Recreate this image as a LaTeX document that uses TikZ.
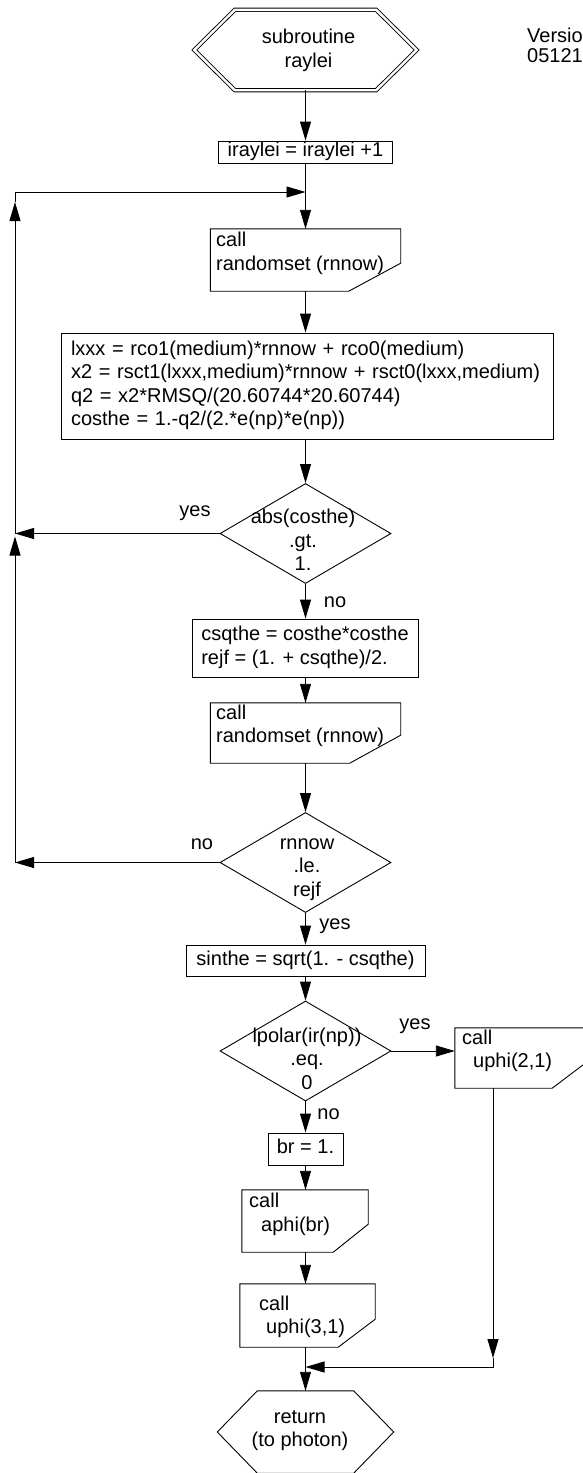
\documentclass[tikz,border=0pt]{standalone}
\usepackage{fontspec}
\setmainfont{Liberation Sans}
\usetikzlibrary{arrows.meta,shapes.geometric}
\newcommand{\cutbox}[2]{\draw[ln] (#1.north west) -- (#1.north east) -- ([yshift=28pt]#1.south east) -- ([xshift=-#2]#1.south east) -- (#1.south west) -- cycle;}
\newcommand{\hexbox}[2]{(#1.west) -- ([xshift=#2]#1.north west) -- ([xshift=-#2]#1.north east) -- (#1.east) -- ([xshift=-#2]#1.south east) -- ([xshift=#2]#1.south west) -- cycle}
\tikzset{
  ln/.style={line width=0.9pt, draw=black},
  arr/.style={ln, -{Triangle[length=19pt,width=11pt]}},
  fnt/.style={font=\fontsize{20}{23.5}\selectfont},
  txt/.style={fnt, inner sep=0pt, align=center},
  ltxt/.style={fnt, inner sep=0pt, align=left},
  lbl/.style={fnt, inner sep=0pt, text height=14pt, text depth=4.5pt},
  boxn/.style={ln, rectangle, inner sep=0pt, fnt, align=center},
  dia/.style={ln, diamond, inner sep=0pt},
  ghost/.style={inner sep=0pt, rectangle, fnt, align=center},
}
\begin{document}
\begin{tikzpicture}[x=1pt,y=-1pt]
\useasboundingbox (0,0) rectangle (582,1473);
% start
\node[ghost, minimum width=222pt, minimum height=80pt] (start) at (305.5,50) {};
\draw[ln, double, double distance=2.4pt] \hexbox{start}{40.5pt};
\node[txt] (startt) at (308.5,50.75) {\strut subroutine\\\strut raylei};
\node[lbl, anchor=west] (ver) at (527,37.25) {Version};
\node[lbl, anchor=west] (vnum) at (527,57.25) {05121};
% boxes
\node[boxn, minimum width=174pt, minimum height=22pt, text height=14pt, text depth=4.5pt] (inc) at (305.5,152) {iraylei = iraylei +1};
\node[ghost, minimum width=190pt, minimum height=62pt] (call1) at (305.5,260) {};
\cutbox{call1}{52pt}
\node[ltxt, anchor=west] (call1t) at (216,253.75) {\strut call\\\strut randomset (rnnow)};
\node[boxn, minimum width=492pt, minimum height=106pt, text width=472pt, align=left] (calc) at (307,386) {\strut lxxx = rco1(medium)*rnnow + rco0(medium)\\\strut x2 = rsct1(lxxx,medium)*rnnow + rsct0(lxxx,medium)\\\strut q2 = x2*RMSQ/(20.60744*20.60744)\\\strut costhe = 1.-q2/(2.*e(np)*e(np))};
\node[dia, minimum width=171pt, minimum height=100pt] (d1) at (305.5,533.5) {};
\node[txt] (d1t) at (303,542.75) {\strut abs(costhe)\\\strut .gt.\\\strut 1.};
\node[boxn, minimum width=226pt, minimum height=58pt, align=left] (csq) at (305,648) {\strut csqthe = costhe*costhe\\\strut rejf = (1. + csqthe)/2.};
\node[ghost, minimum width=190pt, minimum height=60pt] (call2) at (305.5,733) {};
\cutbox{call2}{51pt}
\node[ltxt, anchor=west] (call2t) at (216,726.25) {\strut call\\\strut randomset (rnnow)};
\node[dia, minimum width=171pt, minimum height=100pt] (d2) at (305.5,862.5) {};
\node[txt] (d2t) at (307,868) {\strut rnnow\\\strut .le.\\\strut rejf};
\node[boxn, minimum width=239pt, minimum height=31pt, text height=14pt, text depth=4.5pt] (sin) at (305.5,960.5) {sinthe = sqrt(1. - csqthe)};
\node[dia, minimum width=171pt, minimum height=100pt] (d3) at (305.5,1051) {};
\node[txt] (d3t) at (307,1061) {\strut lpolar(ir(np))\\\strut .eq.\\\strut 0};
\node[ghost, minimum width=134pt, minimum height=60pt] (uphi2) at (522,1058) {};
\cutbox{uphi2}{37pt}
\node[ltxt, anchor=west] (uphi2t) at (462,1051.25) {\strut call\\\strut\hspace*{11pt}uphi(2,1)};
\node[boxn, minimum width=75pt, minimum height=32pt, text height=14pt, text depth=4.5pt] (br) at (305.5,1149) {br = 1.};
\node[ghost, minimum width=126pt, minimum height=62pt] (aphi) at (305,1221) {};
\cutbox{aphi}{35pt}
\node[ltxt, anchor=west] (aphit) at (249,1214.75) {\strut call\\\strut\hspace*{12pt}aphi(br)};
\node[ghost, minimum width=135pt, minimum height=63pt] (uphi3) at (307.5,1315.5) {};
\cutbox{uphi3}{37pt}
\node[ltxt, anchor=west] (uphi3t) at (259,1317.25) {\strut call\\\strut\hspace*{7pt}uphi(3,1)};
\node[ghost, minimum width=176pt, minimum height=82pt] (ret) at (305.5,1432) {};
\draw[ln] \hexbox{ret}{40pt};
\node[txt] (rett) at (300,1430.25) {\strut return\\\strut (to photon)};
% labels
\node[lbl] (yes1) at (195,512) {yes};
\node[lbl] (no1) at (335,603) {no};
\node[lbl] (no2) at (202,845) {no};
\node[lbl] (yes2) at (335,925) {yes};
\node[lbl] (yes3) at (415,1025) {yes};
\node[lbl] (no3) at (328.5,1115) {no};
% coordinates
\coordinate (L0) at (15,192);
\coordinate (j1) at (305.5,192);
\coordinate (j2) at (305.5,1367);
\coordinate (R) at (493,1367);
% main flow
\draw[arr] (start.south) -- (start.south |- inc.north);
\draw[arr] (j1 |- inc.south) -- (j1 |- call1.north);
\draw[arr] (j1 |- call1.south) -- (j1 |- calc.north);
\draw[arr] (j1 |- calc.south) -- (d1.north);
\draw[arr] (d1.south) -- (d1.south |- csq.north);
\draw[arr] (j1 |- csq.south) -- (j1 |- call2.north);
\draw[arr] (j1 |- call2.south) -- (d2.north);
\draw[arr] (d2.south) -- (d2.south |- sin.north);
\draw[arr] (j1 |- sin.south) -- (d3.north);
\draw[arr] (d3.south) -- (d3.south |- br.north);
\draw[arr] (j1 |- br.south) -- (j1 |- aphi.north);
\draw[arr] (j1 |- aphi.south) -- (j1 |- uphi3.north);
\draw[arr] (j1 |- uphi3.south) -- (j1 |- ret.north);
% loops
\draw[arr] (d1.west) -- (d1.west -| L0);
\draw[arr] (d2.west) -- (d2.west -| L0);
\draw[arr] (d2.west -| L0) -- ([yshift=-3pt]d1.west -| L0);
\draw[arr] (d1.west -| L0) -- ([yshift=-10pt]L0);
\draw[arr] ([yshift=-10pt]L0) -- (L0) -- (j1);
% right branch
\draw[arr] (d3.east) -- (d3.east -| uphi2.west);
\draw[arr] (R |- uphi2.south) -- ([yshift=9pt]R);
\draw[arr] ([yshift=9pt]R) -- (R) -- (j2);
\end{tikzpicture}
\end{document}
